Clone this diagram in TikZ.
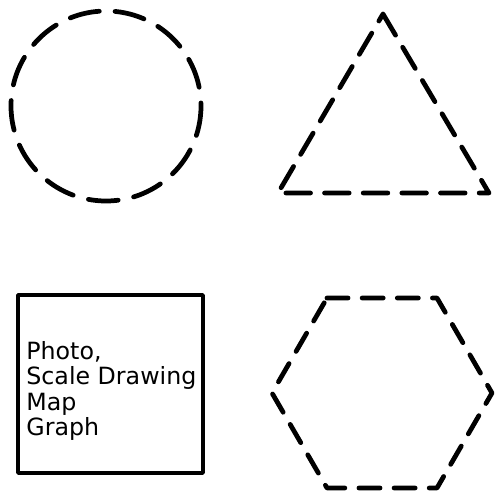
\documentclass[tikz,border=0pt]{standalone}
\usepackage{fontspec}
\setmainfont{DejaVu Sans}
\begin{document}
\begin{tikzpicture}[x=0.02cm,y=-0.02cm,line width=2.7pt,line join=round,line cap=round]
\useasboundingbox (0,0) rectangle (495,494);
\draw[dash pattern=on 17pt off 9pt] (106,106) circle (95);
\draw[dash pattern=on 14pt off 8pt] (383,14) -- (489,193) -- (278,193) -- cycle;
\draw[line width=2pt] (18,295) rectangle (203,473);
\node[anchor=north west,inner sep=0pt,align=left,font=\fontsize{13.5}{14.5}\selectfont] (items) at (24,339) {Photo,\\Scale Drawing\\Map\\Graph};
\draw[dash pattern=on 12pt off 8pt] (327,298) -- (437,298) -- (492,393) -- (437,488) -- (327,488) -- (272,393) -- cycle;
\end{tikzpicture}
\end{document}
